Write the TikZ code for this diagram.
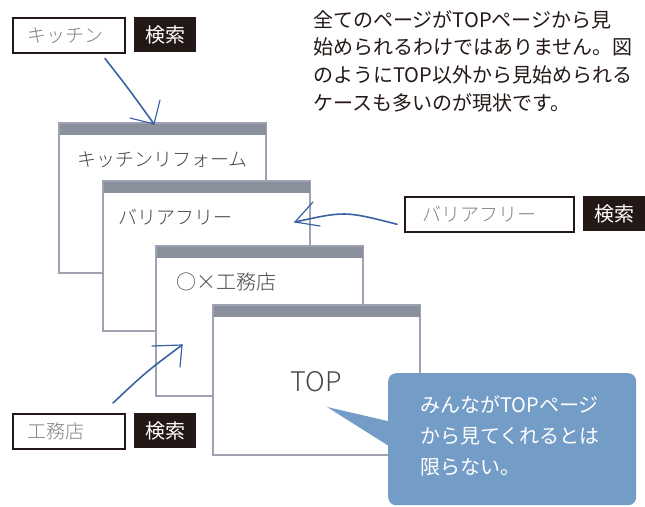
\documentclass[tikz,border=0pt]{standalone}
\usepackage{fontspec}
\newfontfamily\jp{Noto Sans CJK JP}
\newfontfamily\jpl{Noto Sans CJK JP Light}
\definecolor{ink}{RGB}{35,24,21}
\definecolor{bar}{RGB}{138,143,156}
\definecolor{frame}{RGB}{158,162,178}
\definecolor{arrowc}{RGB}{58,98,162}
\definecolor{balloonc}{RGB}{115,157,199}
\definecolor{hint}{RGB}{130,130,130}
\definecolor{wtext}{RGB}{70,70,70}
\tikzset{
  searchbox/.style={draw=ink, line width=1.5pt, fill=white, rectangle, inner sep=0pt,
    minimum width=112pt, minimum height=35pt, text width=112pt, align=left,
    anchor=north west, text=hint, font=\jpl\fontsize{19}{21}\selectfont},
  gobox/.style={fill=ink, rectangle, inner sep=0pt, minimum width=62pt, minimum height=35pt,
    anchor=north west, text=white, font=\jp\fontsize{20}{22}\selectfont},
  window/.style={draw=frame, line width=1.1pt, fill=white, rectangle, inner sep=0pt,
    minimum width=206pt, minimum height=149pt, anchor=north west},
  wlabel/.style={anchor=west, inner sep=0pt, text=wtext, font=\jpl\fontsize{19}{21}\selectfont},
  sketch/.style={draw=arrowc, line width=1.6pt, line cap=round},
  barb/.style={draw=arrowc, line width=1.2pt, line cap=round},
}
\newcommand{\titlebar}[1]{\fill[bar] (#1.north west) rectangle ([yshift=-12pt]#1.north east);
  \draw[frame, line width=1.1pt] (#1.north west) rectangle (#1.south east);}
\begin{document}
\begin{tikzpicture}[x=1pt,y=-1pt]
\useasboundingbox (0,0) rectangle (645,506);

% search boxes
\node[searchbox] (kbox) at (12,17) {\hspace*{15pt}キッチン};
\node[gobox] (kgo) at (134,17) {検索};
\node[searchbox, minimum width=169pt, text width=169pt] (bbox) at (404,196) {\hspace*{18pt}バリアフリー};
\node[gobox] (bgo) at (583,196) {検索};
\node[searchbox] (cbox) at (12,413) {\hspace*{15pt}工務店};
\node[gobox] (cgo) at (134,413) {検索};

% explanation text
\node[anchor=north west, inner sep=0pt, align=left, text=ink,
  font=\jp\fontsize{20}{27.7}\selectfont] (expl) at (313,10)
  {全てのページがTOPページから見\\始められるわけではありません。図\\のようにTOP以外から見始められる\\ケースも多いのが現状です。};

% windows
\node[window] (w1) at (59,123) {};
\titlebar{w1}
\node[wlabel] (t1) at (77,160) {キッチンリフォーム};
\node[window] (w2) at (103,181) {};
\titlebar{w2}
\node[wlabel] (t2) at (118,217) {バリアフリー};
\node[window] (w3) at (156,246) {};
\titlebar{w3}
\node[wlabel, font=\jpl\fontsize{20}{22}\selectfont] (t3) at (176,282) {○×工務店};
\node[window] (w4) at (213,305) {};
\titlebar{w4}
\node[inner sep=0pt, text=wtext, font=\jpl\fontsize{27}{29}\selectfont] (t4) at (316,382) {TOP};

% arrows
\coordinate (a1s) at ([shift={(93pt,-5pt)}]kbox.south west);
\coordinate (a1t) at (154,124);
\draw[sketch] (a1s) .. controls (128,88) .. (a1t);
\draw[barb] (a1t) -- ++(6,-24);
\draw[barb] (a1t) -- ++(-24,-6);

\coordinate (a2s) at ([shift={(-7pt,-10pt)}]bbox.west);
\coordinate (a2t) at (295,222);
\draw[sketch] (a2s) .. controls (345,211) .. (a2t);
\draw[barb] (a2t) -- ++(18,-20);
\draw[barb] (a2t) -- ++(25,4);

\coordinate (a3s) at ([shift={(101pt,10pt)}]cbox.north west);
\coordinate (a3t) at (182,345);
\draw[sketch] (a3s) .. controls (146,372) .. (a3t);
\draw[barb] (a3t) -- ++(-30,1);
\draw[barb] (a3t) -- ++(-2,22);

% balloon
\node[fill=balloonc, rounded corners=8pt, rectangle, inner sep=0pt,
  minimum width=248pt, minimum height=132pt, anchor=north west] (bal) at (388,373) {};
\coordinate (tip) at (327,407);
\fill[balloonc] (tip) -- ([shift={(4pt,-49pt)}]bal.north west) -- ([shift={(4pt,-75pt)}]bal.north west) -- cycle;
\node[anchor=north west, inner sep=0pt, align=left, text=white,
  font=\jp\fontsize{20}{31}\selectfont] (baltext) at (420,395)
  {みんながTOPページ\\から見てくれるとは\\限らない。};
\end{tikzpicture}
\end{document}
